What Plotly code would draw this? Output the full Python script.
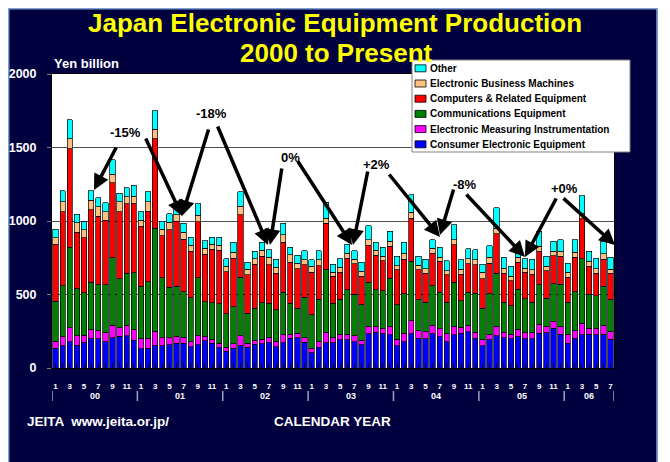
import plotly.graph_objects as go

# ---------------- data (Yen billion, monthly Jan 2000 - Jul 2006) ----------------
years = ["00", "01", "02", "03", "04", "05", "06"]
months_in_year = [12, 12, 12, 12, 12, 12, 7]

consumer = [136, 152, 177, 155, 175, 198, 198, 177, 205, 216, 220, 189,
            130, 136, 152, 152, 159, 170, 170, 143, 159, 186, 170, 141,
            114, 134, 152, 141, 161, 164, 173, 145, 173, 202, 207, 175,
            105, 141, 173, 173, 191, 191, 180, 157, 232, 243, 232, 225,
            150, 180, 232, 202, 198, 232, 214, 180, 225, 236, 248, 202,
            150, 191, 218, 207, 198, 214, 198, 198, 236, 241, 270, 230,
            168, 202, 225, 230, 225, 230, 195]
measuring = [46, 64, 96, 65, 48, 63, 57, 62, 86, 57, 69, 72,
             68, 66, 98, 53, 46, 46, 39, 34, 61, 25, 23, 29,
             27, 30, 66, 27, 25, 31, 34, 35, 52, 28, 29, 32,
             29, 39, 68, 34, 34, 39, 38, 27, 50, 39, 38, 57,
             45, 56, 91, 53, 50, 57, 56, 52, 57, 41, 41, 41,
             41, 34, 64, 36, 32, 50, 43, 43, 57, 41, 46, 52,
             62, 53, 80, 40, 45, 59, 53]
communications = [273, 345, 550, 319, 288, 323, 313, 329, 459, 334, 354, 387,
                  359, 384, 700, 409, 345, 341, 309, 300, 394, 239, 250, 266,
                  227, 254, 398, 205, 221, 250, 234, 215, 291, 211, 171, 275,
                  227, 288, 427, 234, 243, 302, 284, 246, 300, 250, 255, 329,
                  235, 269, 402, 209, 200, 272, 246, 216, 302, 182, 227, 266,
                  216, 280, 363, 205, 193, 272, 229, 207, 273, 193, 257, 288,
                  218, 265, 438, 232, 223, 266, 216]
computers = [386, 503, 670, 386, 375, 491, 466, 437, 511, 457, 475, 472,
             409, 482, 611, 284, 389, 443, 357, 318, 381, 323, 364, 364,
             287, 330, 427, 261, 300, 314, 261, 250, 341, 279, 268, 220,
             289, 227, 318, 182, 182, 216, 207, 193, 252, 234, 205, 216,
             238, 236, 295, 204, 197, 221, 209, 186, 255, 180, 193, 193,
             200, 209, 269, 197, 170, 184, 180, 191, 227, 186, 191, 189,
             170, 232, 271, 189, 152, 186, 181]
business = [45, 66, 68, 64, 53, 66, 64, 59, 57, 66, 48, 50,
            39, 62, 64, 45, 54, 41, 50, 39, 44, 41, 34, 36,
            38, 38, 57, 39, 36, 41, 50, 41, 50, 50, 39, 34,
            41, 41, 34, 29, 36, 34, 32, 34, 39, 34, 29, 34,
            27, 41, 39, 30, 30, 34, 30, 27, 34, 34, 34, 34,
            45, 38, 38, 35, 30, 32, 30, 29, 34, 30, 29, 34,
            32, 37, 34, 34, 30, 36, 28]
other = [57, 75, 128, 56, 56, 64, 61, 61, 98, 59, 61, 73,
         59, 68, 125, 57, 57, 54, 59, 57, 79, 50, 50, 55,
         50, 69, 98, 47, 50, 57, 53, 55, 79, 50, 52, 62,
         45, 62, 107, 55, 57, 61, 57, 61, 95, 57, 61, 69,
         64, 73, 121, 61, 66, 57, 68, 69, 102, 63, 68, 69,
         55, 80, 137, 75, 68, 53, 63, 73, 103, 68, 68, 80,
         64, 84, 125, 68, 73, 84, 79]

series_names = ["Consumer Electronic Equipment", "Electronic Measuring Instrumentation",
                "Communications Equipment", "Computers & Related Equipment",
                "Electronic Business Machines", "Other"]
series_values = [consumer, measuring, communications, computers, business, other]
series_colors = ["#0000FF", "#FF00FF", "#008000", "#FF0000", "#FFC080", "#00FFFF"]

change_labels = ["-15%", "-18%", "0%", "+2%", "-8%", "+0%"]

# ---------------- categories ----------------
month_numbers = []
for y, n in zip(years, months_in_year):
    for m in range(1, n + 1):
        month_numbers.append(m)
xs = list(range(len(month_numbers)))
tick_text = [str(m) if m % 2 == 1 else "" for m in month_numbers]

# ---------------- geometry helpers (screen pixels; page body adds an 8px offset) ----------------
OFF = 8
W, H = 670 - OFF, 462 - OFF
SL, SR, ST, SB = 52, 614, 74, 368          # plot area in screen pixels
NAVY = "#01013f"
FONT = "Arial, Liberation Sans, sans-serif"


def pxx(px):
    return (px - SL) / (SR - SL)


def pxy(py):
    return (SB - py) / (SB - ST)


def dx(px):
    return -0.5 + (px - SL) / (SR - SL) * len(xs)


def dy(py):
    return (SB - py) / (SB - ST) * 2000


fig = go.Figure()
for name, vals, col in zip(series_names, series_values, series_colors):
    fig.add_trace(go.Bar(x=xs, y=vals, name=name, marker_color=col,
                         marker_line=dict(color="black", width=0.7),
                         showlegend=False))

annotations = []
shapes = []

# title
annotations.append(dict(text="Japan Electronic Equipment Production", xref="paper", yref="paper",
                        x=pxx(335), y=pxy(23.5), xanchor="center", yanchor="middle", showarrow=False,
                        font=dict(family=FONT, size=26, color="#FFFF00", weight="bold")))
annotations.append(dict(text="2000 to Present", xref="paper", yref="paper",
                        x=pxx(336), y=pxy(53), xanchor="center", yanchor="middle", showarrow=False,
                        font=dict(family=FONT, size=26, color="#FFFF00", weight="bold")))
annotations.append(dict(text="Yen billion", xref="paper", yref="paper", x=pxx(52), y=pxy(63.5),
                        xanchor="left", yanchor="middle", showarrow=False,
                        font=dict(family=FONT, size=13, color="white", weight="bold")))
annotations.append(dict(text="JEITA  www.jeita.or.jp/", xref="paper", yref="paper", x=pxx(25), y=pxy(421),
                        xanchor="left", yanchor="middle", showarrow=False,
                        font=dict(family=FONT, size=13.5, color="white", weight="bold")))
annotations.append(dict(text="CALENDAR YEAR", xref="paper", yref="paper", x=pxx(332), y=pxy(421),
                        xanchor="center", yanchor="middle", showarrow=False,
                        font=dict(family=FONT, size=13.5, color="white", weight="bold")))

# year labels and separators
start = 0
for y, n in zip(years, months_in_year):
    annotations.append(dict(text=y, xref="x", yref="paper", x=start + (n - 1) / 2, y=pxy(396),
                            xanchor="center", yanchor="middle", showarrow=False,
                            font=dict(family=FONT, size=9, color="white", weight="bold")))
    shapes.append(dict(type="line", xref="x", yref="paper", x0=start - 0.5, x1=start - 0.5,
                       y0=pxy(391), y1=pxy(401), line=dict(color="#a0a0b8", width=1.5)))
    start += n
shapes.append(dict(type="line", xref="x", yref="paper", x0=start - 0.5, x1=start - 0.5,
                   y0=pxy(391), y1=pxy(401), line=dict(color="#a0a0b8", width=1.5)))

# change labels
label_pos = [(125, 132), (211, 113), (290, 157), (376, 164), (465, 184), (564, 188)]
for t, (px, py) in zip(change_labels, label_pos):
    annotations.append(dict(text=t, xref="x", yref="y", x=dx(px), y=dy(py), showarrow=False,
                            xanchor="center", yanchor="middle",
                            font=dict(family=FONT, size=13, color="black", weight="bold")))

# arrows: (tail px, head px)
arrows = [((117, 146), (94, 190)), ((145, 137), (182, 216)),
          ((209, 128), (182, 216)), ((217, 125), (268, 245)),
          ((282, 167), (270, 245)), ((297, 160), (352, 245)),
          ((368, 170), (353, 245)), ((388, 173), (440, 237)),
          ((454, 188), (440, 235)), ((465, 193), (525, 257)),
          ((557, 197), (525, 257)), ((562, 197), (615, 245))]
for (tx, ty), (hx, hy) in arrows:
    annotations.append(dict(text="", xref="x", yref="y", axref="x", ayref="y",
                            x=dx(hx), y=dy(hy), ax=dx(tx), ay=dy(ty), showarrow=True,
                            arrowhead=2, arrowsize=0.9, arrowwidth=3.5, arrowcolor="black"))

# manual legend
shapes.append(dict(type="rect", xref="paper", yref="paper", x0=pxx(412), x1=pxx(630),
                   y0=pxy(152), y1=pxy(60), fillcolor="white", line=dict(color="#808080", width=1),
                   layer="above"))
item_y = [68.3, 83.5, 98.7, 113.9, 129.1, 144.3]
for i, (name, col) in enumerate(zip(series_names[::-1], series_colors[::-1])):
    cy = item_y[i]
    shapes.append(dict(type="rect", xref="paper", yref="paper", x0=pxx(415), x1=pxx(426),
                       y0=pxy(cy + 3.5), y1=pxy(cy - 3.5), fillcolor=col,
                       line=dict(color="black", width=0.8), layer="above"))
    annotations.append(dict(text=name, xref="paper", yref="paper", x=pxx(427.5), y=pxy(cy),
                            xanchor="left", yanchor="middle", showarrow=False,
                            font=dict(family=FONT, size=10, color="black", weight="bold")))

# white right margin and light frame around the navy panel
shapes.append(dict(type="rect", xref="paper", yref="paper", x0=pxx(657.5), x1=pxx(680),
                   y0=pxy(480), y1=pxy(0), fillcolor="white", line=dict(width=0), layer="above"))
shapes.append(dict(type="rect", xref="paper", yref="paper", x0=pxx(8.7), x1=pxx(657),
                   y0=pxy(480), y1=pxy(8.7), line=dict(color="#7f9fd0", width=1.5), layer="above"))

fig.update_layout(
    width=W, height=H,
    margin=dict(l=SL - OFF, r=670 - SR, t=ST - OFF, b=462 - SB, pad=0, autoexpand=False),
    paper_bgcolor=NAVY, plot_bgcolor="white",
    barmode="stack", bargap=0.25,
    showlegend=False,
    annotations=annotations, shapes=shapes,
    xaxis=dict(range=[-0.5, len(xs) - 0.5], tickmode="array", tickvals=xs, ticktext=tick_text,
               ticks="inside", ticklen=5, tickcolor="black", tickwidth=1,
               tickfont=dict(family=FONT, size=8, color="white", weight="bold"),
               ticklabelstandoff=10, automargin=False,
               showline=True, linecolor="black", linewidth=1, mirror=True,
               showgrid=False, zeroline=False),
    yaxis=dict(range=[0, 2000], tickmode="linear", tick0=0, dtick=500,
               ticks="outside", ticklen=4, tickcolor="#808080",
               tickfont=dict(family=FONT, size=12.5, color="white", weight="bold"),
               ticklabelstandoff=8, automargin=False,
               showline=True, linecolor="black", linewidth=1, mirror=True,
               showgrid=True, gridcolor="#505050", gridwidth=1, zeroline=False),
)

fig.write_html("out.html")
